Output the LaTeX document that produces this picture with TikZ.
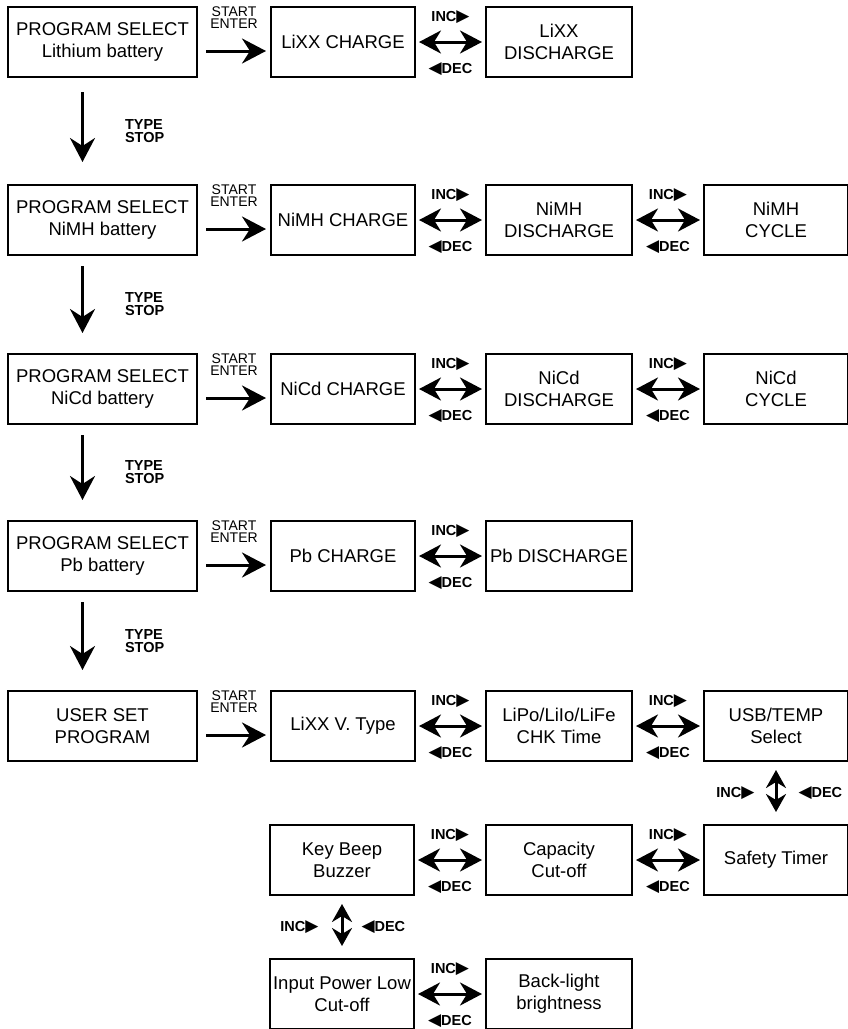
\documentclass[tikz,border=0pt]{standalone}
\usepackage{fontspec}
\setmainfont{Liberation Sans}
\newfontfamily\symfont{DejaVu Sans}
\usetikzlibrary{positioning,arrows.meta}

\begin{document}
\begin{tikzpicture}[x=1pt,y=-1pt]
	% Define styles
	\tikzstyle{block} = [rectangle, draw, line width=2pt, inner sep=2pt,
	text centered, align=center, minimum height=70pt, font=\fontsize{18.5}{22}\selectfont]
	\tikzstyle{progblock} = [block, minimum width=189pt]
	\tikzstyle{modeblock} = [block, minimum width=144pt]
	\tikzstyle{arrow} = [line width=3pt, -{Stealth[length=24pt, width=25pt, inset=8pt]}]
	\tikzstyle{incdec} = [line width=3pt, {Stealth[length=22pt, width=23pt, inset=7pt]}-{Stealth[length=22pt, width=23pt, inset=7pt]}, shorten <=3pt, shorten >=3pt]
	\tikzstyle{updown} = [line width=3pt, {Stealth[length=18pt, width=20pt, inset=6pt]}-{Stealth[length=18pt, width=20pt, inset=6pt]}, shorten <=8pt, shorten >=12pt]
	\tikzstyle{keylabel} = [inner sep=0pt, align=center, font=\fontsize{14}{12.5}\selectfont]
	\tikzstyle{btnlabel} = [inner sep=0pt, align=left, font=\bfseries\fontsize{14.5}{13}\selectfont]
	\newcommand{\inc}{INC{\symfont\fontsize{17}{13}\selectfont ▶}}
	\newcommand{\dec}{{\symfont\fontsize{17}{13}\selectfont ◀}DEC}

	\useasboundingbox (0,0) rectangle (848,1029);

	% Place nodes
	\node [progblock] (lithium) at (102.5,42) {PROGRAM SELECT\\Lithium battery};
	\node [modeblock, right=72pt of lithium] (lixxcharge) {LiXX CHARGE};
	\node [modeblock, right=69pt of lixxcharge, minimum width=146pt] (lixxdischarge) {LiXX\\DISCHARGE};

	\node [progblock, below=106pt of lithium] (nimh) {PROGRAM SELECT\\NiMH battery};
	\node [modeblock, right=72pt of nimh] (nimhcharge) {NiMH CHARGE};
	\node [modeblock, right=69pt of nimhcharge, minimum width=146pt] (nimhdischarge) {NiMH\\DISCHARGE};
	\node [modeblock, right=70pt of nimhdischarge] (nimhcycle) {NiMH\\CYCLE};

	\node [progblock, below=97pt of nimh] (nicd) {PROGRAM SELECT\\NiCd battery};
	\node [modeblock, right=72pt of nicd] (nicdcharge) {NiCd CHARGE};
	\node [modeblock, right=69pt of nicdcharge, minimum width=146pt] (nicddischarge) {NiCd\\DISCHARGE};
	\node [modeblock, right=70pt of nicddischarge] (nicdcycle) {NiCd\\CYCLE};

	\node [progblock, below=95pt of nicd] (pb) {PROGRAM SELECT\\Pb battery};
	\node [modeblock, right=72pt of pb] (pbcharge) {Pb CHARGE};
	\node [modeblock, right=69pt of pbcharge, minimum width=146pt] (pbdischarge) {Pb DISCHARGE};

	\node [progblock, below=98pt of pb] (userset) {USER SET\\PROGRAM};
	\node [modeblock, right=72pt of userset] (vtype) {LiXX V. Type};
	\node [modeblock, right=69pt of vtype, minimum width=146pt] (chktime) {LiPo/LiIo/LiFe\\CHK Time};
	\node [modeblock, right=70pt of chktime] (usbtemp) {USB/TEMP\\Select};

	\node [modeblock, below=62pt of usbtemp] (safety) {Safety Timer};
	\node [modeblock, left=70pt of safety, minimum width=146pt] (capacity) {Capacity\\Cut-off};
	\node [modeblock, left=70pt of capacity] (keybeep) {Key Beep\\Buzzer};

	\node [modeblock, below=62pt of keybeep] (powerlow) {Input Power Low\\Cut-off};
	\node [modeblock, right=70pt of powerlow, minimum width=146pt] (backlight) {Back-light\\brightness};

	% Start arrows
	\draw [arrow, shorten <=8pt, shorten >=4pt] ([yshift=-9pt]lithium.east) -- ([yshift=-9pt]lixxcharge.west)
		node [keylabel, midway, above=21pt] (start1) {START\\ENTER};
	\draw [arrow, shorten <=8pt, shorten >=4pt] ([yshift=-9pt]nimh.east) -- ([yshift=-9pt]nimhcharge.west)
		node [keylabel, midway, above=21pt] (start2) {START\\ENTER};
	\draw [arrow, shorten <=8pt, shorten >=4pt] ([yshift=-9pt]nicd.east) -- ([yshift=-9pt]nicdcharge.west)
		node [keylabel, midway, above=21pt] (start3) {START\\ENTER};
	\draw [arrow, shorten <=8pt, shorten >=4pt] ([yshift=-9pt]pb.east) -- ([yshift=-9pt]pbcharge.west)
		node [keylabel, midway, above=21pt] (start4) {START\\ENTER};
	\draw [arrow, shorten <=8pt, shorten >=4pt] ([yshift=-9pt]userset.east) -- ([yshift=-9pt]vtype.west)
		node [keylabel, midway, above=21pt] (start5) {START\\ENTER};

	% Type arrows
	\draw [arrow, shorten <=14pt, shorten >=22pt] ([xshift=-20pt]lithium.south) -- ([xshift=-20pt]nimh.north)
		node [btnlabel, midway, right=41pt] (type1) {TYPE\\STOP};
	\draw [arrow, shorten <=10pt, shorten >=20pt] ([xshift=-20pt]nimh.south) -- ([xshift=-20pt]nicd.north)
		node [btnlabel, midway, right=41pt] (type2) {TYPE\\STOP};
	\draw [arrow, shorten <=10pt, shorten >=20pt] ([xshift=-20pt]nicd.south) -- ([xshift=-20pt]pb.north)
		node [btnlabel, midway, right=41pt] (type3) {TYPE\\STOP};
	\draw [arrow, shorten <=10pt, shorten >=20pt] ([xshift=-20pt]pb.south) -- ([xshift=-20pt]userset.north)
		node [btnlabel, midway, right=41pt] (type4) {TYPE\\STOP};

	% INC / DEC arrows
	\draw [incdec] (lixxcharge) -- (lixxdischarge)
		node [btnlabel, midway, yshift=25pt] (inc1) {\inc} node [btnlabel, midway, yshift=-27pt] (dec1) {\dec};
	\draw [incdec] (nimhcharge) -- (nimhdischarge)
		node [btnlabel, midway, yshift=25pt] (inc2) {\inc} node [btnlabel, midway, yshift=-27pt] (dec2) {\dec};
	\draw [incdec] (nimhdischarge) -- (nimhcycle)
		node [btnlabel, midway, yshift=25pt] (inc3) {\inc} node [btnlabel, midway, yshift=-27pt] (dec3) {\dec};
	\draw [incdec] (nicdcharge) -- (nicddischarge)
		node [btnlabel, midway, yshift=25pt] (inc4) {\inc} node [btnlabel, midway, yshift=-27pt] (dec4) {\dec};
	\draw [incdec] (nicddischarge) -- (nicdcycle)
		node [btnlabel, midway, yshift=25pt] (inc5) {\inc} node [btnlabel, midway, yshift=-27pt] (dec5) {\dec};
	\draw [incdec] (pbcharge) -- (pbdischarge)
		node [btnlabel, midway, yshift=25pt] (inc6) {\inc} node [btnlabel, midway, yshift=-27pt] (dec6) {\dec};
	\draw [incdec] (vtype) -- (chktime)
		node [btnlabel, midway, yshift=25pt] (inc7) {\inc} node [btnlabel, midway, yshift=-27pt] (dec7) {\dec};
	\draw [incdec] (chktime) -- (usbtemp)
		node [btnlabel, midway, yshift=25pt] (inc8) {\inc} node [btnlabel, midway, yshift=-27pt] (dec8) {\dec};
	\draw [updown] (usbtemp) -- (safety)
		node [btnlabel, midway, left=20pt] (inc9) {\inc} node [btnlabel, midway, right=21pt] (dec9) {\dec};
	\draw [incdec] (keybeep) -- (capacity)
		node [btnlabel, midway, yshift=25pt] (inc10) {\inc} node [btnlabel, midway, yshift=-27pt] (dec10) {\dec};
	\draw [incdec] (capacity) -- (safety)
		node [btnlabel, midway, yshift=25pt] (inc11) {\inc} node [btnlabel, midway, yshift=-27pt] (dec11) {\dec};
	\draw [updown] (keybeep) -- (powerlow)
		node [btnlabel, midway, left=22pt] (inc12) {\inc} node [btnlabel, midway, right=18pt] (dec12) {\dec};
	\draw [incdec] (powerlow) -- (backlight)
		node [btnlabel, midway, yshift=25pt] (inc13) {\inc} node [btnlabel, midway, yshift=-27pt] (dec13) {\dec};
\end{tikzpicture}
\end{document}
